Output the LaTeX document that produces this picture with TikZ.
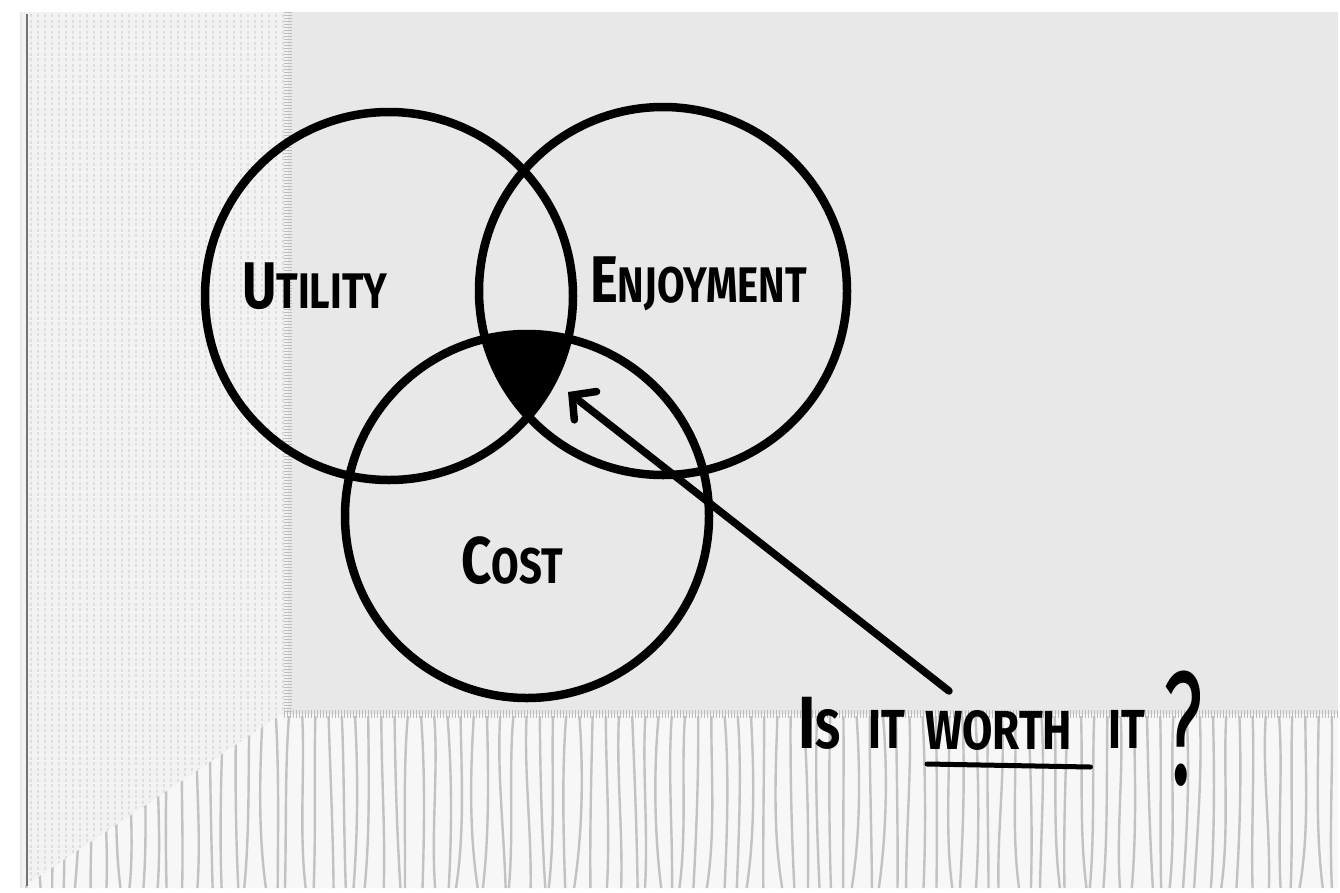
\documentclass[tikz,border=0pt]{standalone}
\usepackage{fontspec}
\newfontfamily\hand{Fira Sans}[FakeStretch=0.8]
\usetikzlibrary{arrows.meta}
\newcommand\BigL[1]{{\fontsize{66}{66}\selectfont #1}}
\newcommand\BigQ[1]{{\fontsize{74}{74}\selectfont #1}}
\tikzset{
  venn/.style={circle, draw=black, line width=8.5pt, inner sep=0pt, minimum size=#1},
  lbl/.style={font=\hand\bfseries\fontsize{50}{50}\selectfont, inner sep=0pt, anchor=base west, text=black},
  qlbl/.style={lbl, font=\hand\bfseries\fontsize{55}{55}\selectfont},
  paperfill/.style={fill=black!9},
  stripfill/.style={fill=black!5},
  fringefill/.style={fill=black!3},
  stripline/.style={draw=black!13, line width=1.3pt, dash pattern=on 3pt off 2.5pt},
  fringeline/.style={draw=black!24, line width=2.4pt},
  seam/.style={draw=black!26, line width=8pt, dash pattern=on 1.2pt off 1.8pt},
  pointer/.style={line width=7.5pt, line cap=round, -{Straight Barb[length=17pt,width=36pt,line cap=round]}},
}
\begin{document}
\begin{tikzpicture}[x=1pt,y=-1pt]
\useasboundingbox (0,0) rectangle (1340,892);
\fill[white] (0,0) rectangle (1340,892);
% napkin
\fill[paperfill] (20,12) rectangle (1338,888);
\fill[stripfill] (22,12) rectangle (288,888);
\begin{scope}
  \clip (22,12) rectangle (286,888);
  \foreach \i in {0,...,37} { \draw[stripline] ({31+\i*7},14) -- ({31+\i*7},886); }
\end{scope}
\path[fringefill] (282,714) -- (1338,714) -- (1338,888) -- (22,888) -- cycle;
\begin{scope}
  \clip (282,714) -- (1338,714) -- (1338,888) -- (22,888) -- cycle;
  \pgfmathsetseed{7}
  \foreach \i in {0,...,100} {
    \draw[fringeline] ({25+\i*13.2},716) .. controls ({25+\i*13.2+5*rand},770) and ({25+\i*13.2+5*rand},830) .. ({25+\i*13.2+6*rand},888);
  }
\end{scope}
\draw[seam] (288,12) -- (288,712);
\draw[seam] (284,714) -- (1338,714);
\draw[black!55, line width=2pt] (27,14) -- (27,886);
% black intersection
\begin{scope}
  \clip (389,296) circle[radius=184pt];
  \clip (663,291) circle[radius=184pt];
  \fill[black] (527,516) circle[radius=182pt];
\end{scope}
% circles
\node[venn=368pt] (U) at (389,296) {};
\node[venn=368pt] (E) at (663,291) {};
\node[venn=364pt] (C) at (527,516) {};
% labels
\node[lbl] (ut) at (242,308) {\BigL{U}TILITY};
\node[lbl] (en) at (590,302) {\BigL{E}NJOYMENT};
\node[lbl] (co) at (461,583) {\BigL{C}OST};
\node[qlbl] (is) at (798,748) {\BigQ{I}S};
\node[qlbl] (it1) at (868,748) {IT};
\node[qlbl] (w) at (925,749) {WORTH};
\node[qlbl] (it2) at (1108,748) {IT};
\node[lbl, font=\hand\fontsize{108}{108}\selectfont] (qm) at (1163,784) {\scalebox{1}[1.5]{?}};
\draw[line width=5pt, line cap=round] ([xshift=2pt,yshift=-15pt]w.base west) -- ([xshift=18pt,yshift=-18pt]w.base east);
% arrow
\coordinate (tail) at (949,691);
\coordinate (tip) at (568,392);
\draw[pointer] (tail) -- (tip);
\end{tikzpicture}
\end{document}
